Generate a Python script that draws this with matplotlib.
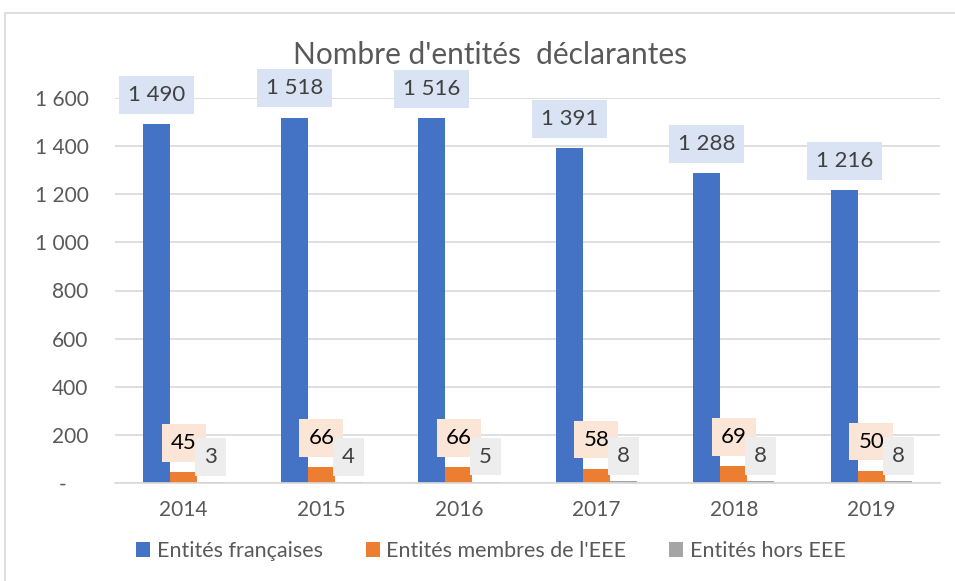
import numpy as np
import matplotlib.pyplot as plt
from matplotlib.patches import Rectangle
from matplotlib.ticker import FuncFormatter

plt.rcParams['font.family'] = ['Lato', 'DejaVu Sans']

years = ['2014', '2015', '2016', '2017', '2018', '2019']
francaises = [1490, 1518, 1516, 1391, 1288, 1216]
membres_eee = [45, 66, 66, 58, 69, 50]
hors_eee = [3, 4, 5, 8, 8, 8]

series = [
    ("Entités françaises", francaises, '#4472C4', '#DAE3F3'),
    ("Entités membres de l'EEE", membres_eee, '#ED7D31', '#FBE5D6'),
    ("Entités hors EEE", hors_eee, '#A5A5A5', '#EDEDED'),
]

fig = plt.figure(figsize=(9.55, 5.81), dpi=100)
fig.patch.set_facecolor('white')
# outer chart frame
fig.add_artist(Rectangle((5 / 955, -0.01), 1.0, 1 - 13 / 581 + 0.01,
                         transform=fig.transFigure, fill=False,
                         edgecolor='#D9D9D9', linewidth=1.2))

ax = fig.add_axes([115 / 955, 1 - 483 / 581, 825 / 955, 385 / 581])

x = np.arange(len(years))
width = 0.196
for i, (name, vals, color, boxcolor) in enumerate(series):
    pos = x + (i - 1) * width
    ax.bar(pos, vals, width, color=color, label=name, zorder=2)
    for px, v in zip(pos, vals):
        if i == 0:
            dy, tc = 14, '#404040'
        elif i == 1:
            dy, tc = 14, '#000000'
        else:
            dy, tc = 11, '#404040'
        ax.annotate(f'{v:,}'.replace(',', ' '),
                    (px, v), xytext=(0, dy), textcoords='offset points',
                    ha='center', va='bottom', fontsize=16, color=tc,
                    zorder=5 + i,
                    bbox=dict(boxstyle='square,pad=0.4', fc=boxcolor, ec='none'))

ax.set_xlim(-0.5, len(years) - 0.5)
ax.set_ylim(0, 1600)
ax.set_yticks(range(0, 1601, 200))
ax.yaxis.set_major_formatter(FuncFormatter(
    lambda v, p: '-    ' if v == 0 else f'{int(v):,}'.replace(',', ' ')))
ax.set_xticks(x)
ax.set_xticklabels(years)
ax.grid(axis='y', color='#D9D9D9', linewidth=1.2, zorder=0)
ax.set_axisbelow(True)
for s in ['top', 'right', 'left']:
    ax.spines[s].set_visible(False)
ax.spines['bottom'].set_color('#D9D9D9')
ax.spines['bottom'].set_linewidth(1.2)
ax.tick_params(axis='both', length=0, labelsize=15, colors='#595959')
ax.tick_params(axis='x', pad=12)
ax.tick_params(axis='y', pad=19)

fig.text(490 / 955, 1 - 55 / 581, "Nombre d'entités  déclarantes",
         ha='center', va='center', fontsize=21.5, color='#595959')

fig.legend(loc='center', bbox_to_anchor=(491 / 955, 1 - 551 / 581), ncol=3,
           frameon=False, fontsize=15.5, labelcolor='#595959',
           handlelength=0.65, handleheight=0.65, handletextpad=0.3,
           columnspacing=2.0)

fig.savefig('out.png', dpi=100)
